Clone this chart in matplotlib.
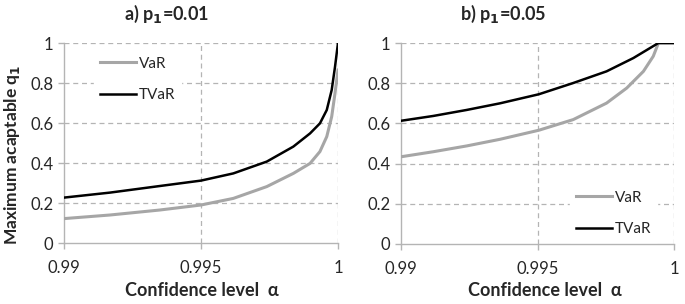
import numpy as np
import matplotlib.pyplot as plt
from matplotlib.ticker import FixedLocator, FixedFormatter

plt.rcParams['font.family'] = ['Lato', 'DejaVu Sans']

# ---- data ----
# panel a) p1 = 0.01
a_var_x = [0.99, 0.99168, 0.9935, 0.995, 0.99618, 0.9974, 0.99837, 0.99898,
           0.99934, 0.99959, 0.99977, 0.99989, 1.0]
a_var_y = [0.122, 0.14, 0.165, 0.19, 0.223, 0.282, 0.348, 0.398,
           0.457, 0.532, 0.632, 0.748, 0.865]
a_tvar_x = [0.99, 0.99168, 0.9935, 0.995, 0.99618, 0.9974, 0.99837, 0.99898,
            0.99934, 0.99959, 0.99977, 0.99989, 1.0]
a_tvar_y = [0.227, 0.252, 0.285, 0.312, 0.348, 0.407, 0.482, 0.548,
            0.598, 0.665, 0.765, 0.88, 1.0]

# panel b) p1 = 0.05
b_var_x = [0.99, 0.99118, 0.99241, 0.99363, 0.99505, 0.99631, 0.99753, 0.99827,
           0.99888, 0.99924, 0.99943, 1.0]
b_var_y = [0.434, 0.459, 0.488, 0.521, 0.566, 0.619, 0.701, 0.776,
           0.859, 0.934, 1.0, 1.0]
b_tvar_x = [0.99, 0.99118, 0.99241, 0.99363, 0.99505, 0.99631, 0.99753, 0.99851,
            0.99943, 1.0]
b_tvar_y = [0.613, 0.637, 0.667, 0.70, 0.745, 0.801, 0.859, 0.925,
            1.0, 1.0]

x_ticks = [0.99, 0.995, 1.0]
x_labels = ["0.99", "0.995", "1"]
y_ticks = [0, 0.2, 0.4, 0.6, 0.8, 1.0]
y_labels = ["0", "0.2", "0.4", "0.6", "0.8", "1"]

GRID = "#b4b4b4"
VAR_C = "#a6a6a6"
TVAR_C = "#000000"
TXT = "#262626"


def style(ax):
    ax.set_xlim(0.99, 1.0)
    ax.set_ylim(0, 1.0)
    ax.xaxis.set_major_locator(FixedLocator(x_ticks))
    ax.xaxis.set_major_formatter(FixedFormatter(x_labels))
    ax.yaxis.set_major_locator(FixedLocator(y_ticks))
    ax.yaxis.set_major_formatter(FixedFormatter(y_labels))
    for v in y_ticks[1:]:
        ax.axhline(v, color=GRID, lw=0.9, ls=(0, (4, 3)), zorder=0)
    for v in x_ticks[1:]:
        ax.axvline(v, color=GRID, lw=0.9, ls=(0, (4, 3)), zorder=0)
    for s in ("top", "right"):
        ax.spines[s].set_visible(False)
    for s in ("left", "bottom"):
        ax.spines[s].set_color(GRID)
        ax.spines[s].set_linewidth(1.0)
    ax.tick_params(colors=GRID, labelcolor=TXT, labelsize=12, length=4, width=1.0)
    ax.tick_params(axis="x", pad=8)


fig = plt.figure(figsize=(6.85, 3.04), dpi=100)
ax1 = fig.add_axes([64 / 685, 1 - 243 / 304, 274 / 685, 200 / 304])
ax2 = fig.add_axes([401 / 685, 1 - 244 / 304, 273 / 685, 201 / 304])

for ax in (ax1, ax2):
    style(ax)

ax1.plot(a_var_x, a_var_y, color=VAR_C, lw=2.2, label="VaR", zorder=3)
ax1.plot(a_tvar_x, a_tvar_y, color=TVAR_C, lw=1.8, label="TVaR", zorder=4)
ax2.plot(b_var_x, b_var_y, color=VAR_C, lw=2.2, label="VaR", zorder=3)
ax2.plot(b_tvar_x, b_tvar_y, color=TVAR_C, lw=1.8, label="TVaR", zorder=4)

leg_kw = dict(frameon=True, facecolor="white", edgecolor="white", framealpha=1,
              fontsize=11, handlelength=2.4, handletextpad=0.15, labelspacing=1.15,
              borderpad=0.4, fancybox=False)
l1 = ax1.legend(loc="upper left", bbox_to_anchor=(0.08, 1.0), **leg_kw)
l2 = ax2.legend(loc="lower left", bbox_to_anchor=(0.59, -0.03), **leg_kw)
for leg in (l1, l2):
    for t in leg.get_texts():
        t.set_color(TXT)

fig.text(167 / 685, 1 - 14 / 304, r"a) p$_\mathbf{1}$=0.01", ha="center", va="center",
         fontsize=13, fontweight="bold", color=TXT)
fig.text(503 / 685, 1 - 14 / 304, r"b) p$_\mathbf{1}$=0.05", ha="center", va="center",
         fontsize=13, fontweight="bold", color=TXT)
fig.text(202 / 685, 1 - 291 / 304, "Confidence level  α", ha="center", va="center",
         fontsize=13, fontweight="bold", color=TXT)
fig.text(545 / 685, 1 - 291 / 304, "Confidence level  α", ha="center", va="center",
         fontsize=13, fontweight="bold", color=TXT)
fig.text(12 / 685, 1 - 155 / 304, r"Maximum acaptable q$_\mathbf{1}$", ha="center", va="center",
         rotation=90, fontsize=12.5, fontweight="bold", color=TXT)

fig.savefig("out.png", dpi=100)
